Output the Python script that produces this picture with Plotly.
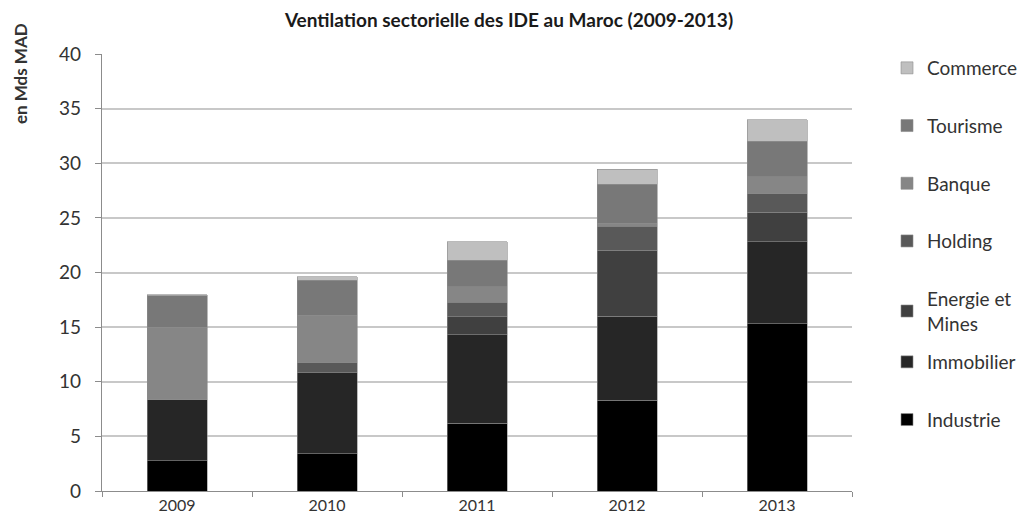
import plotly.graph_objects as go

years = ["2009", "2010", "2011", "2012", "2013"]
industrie = [2.75, 3.4, 6.2, 8.3, 15.3]
immobilier = [5.65, 7.43, 8.1, 7.7, 7.5]
energie = [0.0, 0.0, 1.65, 6.05, 2.7]
holding = [0.0, 0.92, 1.35, 2.2, 1.7]
banque = [6.6, 4.35, 1.4, 0.25, 1.55]
tourisme = [2.85, 3.2, 2.4, 3.6, 3.25]
commerce = [0.1, 0.3, 1.7, 1.35, 2.0]

series = [
    ("Industrie", industrie, "#000000", "legend2"),
    ("Immobilier", immobilier, "#262626", "legend2"),
    ("Energie et<br>Mines", energie, "#404040", "legend"),
    ("Holding", holding, "#595959", "legend"),
    ("Banque", banque, "#868686", "legend"),
    ("Tourisme", tourisme, "#787878", "legend"),
    ("Commerce", commerce, "#bfbfbf", "legend"),
]

FONT = "Lato"
W, H = 1021, 516  # page body has an 8px margin
fig = go.Figure()
n = len(series)
for i, (name, vals, col, leg) in enumerate(series):
    fig.add_trace(go.Bar(
        x=years, y=vals, name=name, legendgroup=name, legendrank=n - i, legend=leg,
        marker=dict(color=col, line=dict(width=0.6, color="#8c8c8c")),
        width=0.4,
    ))

leg_common = dict(traceorder="grouped", tracegroupgap=30, maxheight=480,
                  yref="container", xref="paper", x=1.0467, xanchor="left", yanchor="top",
                  font=dict(family=FONT, size=19, color="#333333"),
                  itemwidth=30, bgcolor="rgba(0,0,0,0)")

fig.update_layout(
    width=W, height=H,
    barmode="stack",
    plot_bgcolor="white", paper_bgcolor="white",
    margin=dict(l=94, r=177, t=46, b=33, autoexpand=False),
    font=dict(family=FONT, color="#404040", size=13),
    title=dict(text="<b>Ventilation sectorielle des IDE au Maroc (2009-2013)</b>",
               x=501 / W, xanchor="center", y=1 - 12 / H, yanchor="middle",
               font=dict(family=FONT, size=19, color="#1a1a1a")),
    legend=dict(leg_common, y=1 - 41 / H),
    legend2=dict(leg_common, y=1 - 335 / H),
    showlegend=True,
)
fig.update_yaxes(range=[0, 40], dtick=5, showgrid=True, gridcolor="#c8c8c8", gridwidth=1.5,
                 showline=True, linecolor="#8c8c8c", linewidth=1.2,
                 ticks="outside", ticklen=6, tickcolor="#8c8c8c", ticklabelstandoff=10,
                 tickfont=dict(family=FONT, size=19, color="#333333"), zeroline=False,
                 automargin=False)
fig.update_xaxes(showgrid=False, showline=True, linecolor="#8c8c8c", linewidth=1.2,
                 ticks="outside", ticklen=5, tickcolor="#8c8c8c", tickson="boundaries",
                 tickfont=dict(family=FONT, size=16, color="#333333"), automargin=False)
fig.add_annotation(text="<b>en Mds MAD</b>", xref="paper", yref="paper",
                   x=(13 - 94) / 750, y=(483 - 66) / 437, xanchor="center", yanchor="middle",
                   textangle=-90, showarrow=False,
                   font=dict(family=FONT, size=17, color="#333333"))

fig.write_html("out.html")
